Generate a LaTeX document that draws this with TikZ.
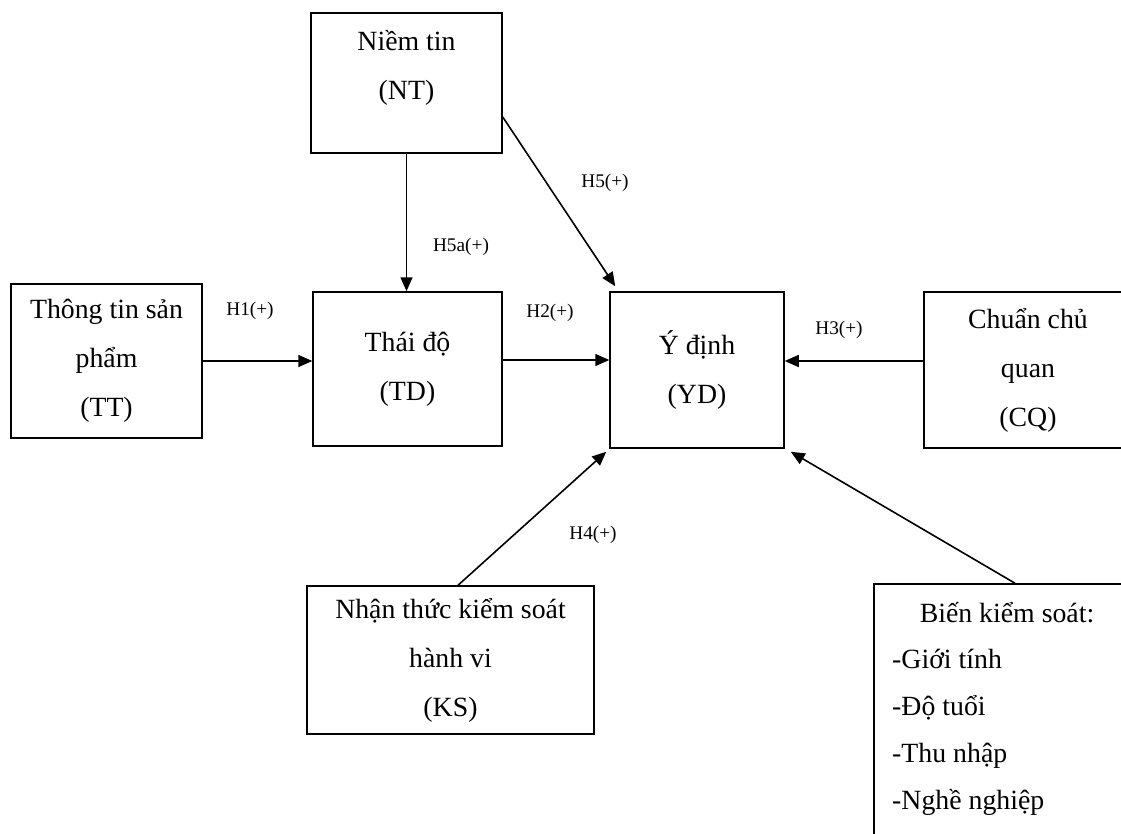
\documentclass[tikz,border=0pt]{standalone}
\usepackage{fontspec}
\setmainfont{Liberation Serif}
\usetikzlibrary{arrows.meta,calc}
\begin{document}
\begin{tikzpicture}[x=1pt,y=-1pt,
  box/.style={draw, line width=1.5pt, rectangle, inner sep=0pt, align=center, font=\fontsize{27.8}{49}\selectfont},
  txt/.style={inner sep=0pt, align=center, font=\fontsize{27.8}{49}\selectfont},
  hlab/.style={inner sep=0pt, font=\fontsize{19.3}{22}\selectfont},
  arr/.style={line width=1.6pt, -{Triangle[length=14pt,width=12pt]}}]
\useasboundingbox (0,0) rectangle (1121,834);
\clip (0,0) rectangle (1121,834);
\node[box, minimum width=191pt, minimum height=140pt] (NT) at (406.5,83) {};
\node[txt] (NTt) at (406.5,68) {Niềm tin\\(NT)};
\node[box, minimum width=191pt, minimum height=154pt] (TT) at (106.5,361) {Thông tin sản\\phẩm\\(TT)};
\node[box, minimum width=189pt, minimum height=154pt] (TD) at (407.5,369) {Thái độ\\(TD)};
\node[box, minimum width=174pt, minimum height=156pt] (YD) at (697,370) {Ý định\\(YD)};
\node[box, minimum width=208pt, minimum height=156pt] (CQ) at (1028,370) {Chuẩn chủ\\quan\\(CQ)};
\node[box, minimum width=287pt, minimum height=148pt] (KS) at (450.5,660) {Nhận thức kiểm soát\\hành vi\\(KS)};
\node[box, minimum width=266pt, minimum height=266pt] (BKS) at (1007,717) {};
\node[txt] (BKSt) at (1007,613) {Biến kiểm soát:};
\node[txt, anchor=west, align=left, font=\fontsize{27.8}{47}\selectfont] (BKSl) at (892,732) {-Giới tính\\-Độ tuổi\\-Thu nhập\\-Nghề nghiệp};

\draw[arr] (NT.south) -- (NT.south |- TD.north);
\draw[arr] ($(NT.east)+(0,34)$) -- ($(YD.north west)+(6,-5)$);
\draw[arr] (TT.east) -- (TT.east -| TD.west);
\draw[arr] ($(TD.east)+(0,-9)$) -- ($(YD.west)+(0,-10)$);
\draw[arr] ($(CQ.west)+(0,-9)$) -- ($(YD.east)+(0,-9)$);
\draw[arr] ($(KS.north)+(7.5,0)$) -- ($(YD.south west)+(-3,3)$);
\draw[arr] ($(BKS.north)+(8,0)$) -- ($(YD.south east)+(6,3)$);

\node[hlab] (h5) at (605,183) {H5(+)};
\node[hlab] (h5a) at (461,247) {H5a(+)};
\node[hlab] (h1) at (250,311) {H1(+)};
\node[hlab] (h2) at (550,313) {H2(+)};
\node[hlab] (h3) at (839,330) {H3(+)};
\node[hlab] (h4) at (593,535) {H4(+)};
\end{tikzpicture}
\end{document}
